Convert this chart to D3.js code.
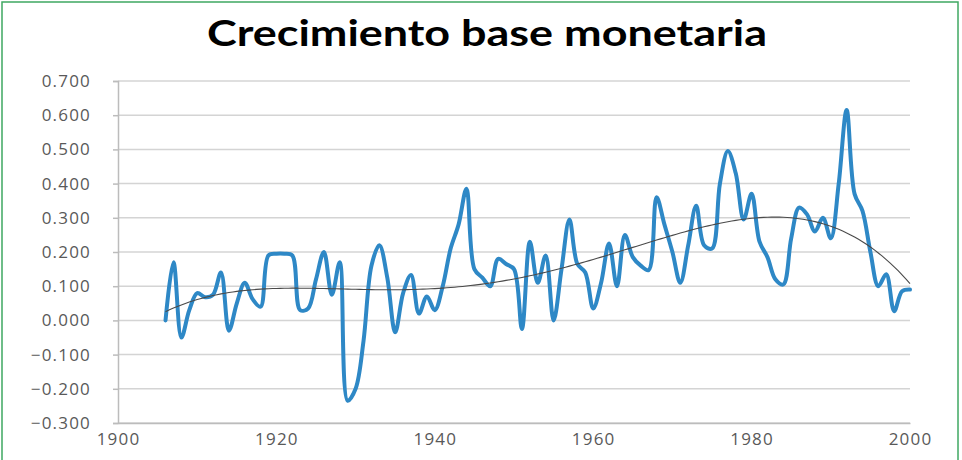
<!DOCTYPE html>
<html>
<head>
<meta charset="utf-8">
<script src="https://cdn.jsdelivr.net/npm/d3@7"></script>
<style>
  html, body { margin: 0; padding: 0; background: #fff; }
  svg { display: block; }
</style>
</head>
<body>
<svg id="chart" width="962" height="460"></svg>
<script>
// Annual growth of the monetary base, 1906–2000
const years = d3.range(1906, 2001);
const growth = [
  0.000, 0.170, -0.050, 0.030, 0.080, 0.068, 0.075, 0.140, -0.030, 0.050,
  0.110, 0.062, 0.040, 0.190, 0.195, 0.195, 0.190, 0.030, 0.035, 0.120,
  0.200, 0.075, 0.170, -0.235, -0.200, -0.060, 0.160, 0.220, 0.125, -0.035,
  0.080, 0.133, 0.020, 0.070, 0.030, 0.100, 0.210, 0.280, 0.385, 0.150,
  0.125, 0.100, 0.180, 0.165, 0.150, -0.025, 0.230, 0.110, 0.190, 0.000,
  0.150, 0.295, 0.165, 0.140, 0.035, 0.110, 0.225, 0.100, 0.250, 0.185,
  0.160, 0.147, 0.360, 0.280, 0.200, 0.110, 0.220, 0.335, 0.220, 0.210,
  0.400, 0.495, 0.430, 0.295, 0.370, 0.230, 0.185, 0.120, 0.105, 0.240,
  0.330, 0.310, 0.260, 0.300, 0.240, 0.400, 0.615, 0.370, 0.320, 0.200,
  0.100, 0.135, 0.027, 0.085, 0.090
];
const yTicks = [-0.3, -0.2, -0.1, 0, 0.1, 0.2, 0.3, 0.4, 0.5, 0.6, 0.7];
const xTicks = [1900, 1920, 1940, 1960, 1980, 2000];
const title = "Crecimiento base monetaria";
const trendDegree = 4;

const svg = d3.select("#chart");

// outer frame
svg.append("rect")
  .attr("x", 2).attr("y", 2).attr("width", 956).attr("height", 470)
  .attr("fill", "none").attr("stroke", "#3fa862").attr("stroke-width", 1.5);

const x = d3.scaleLinear().domain([1900, 2000]).range([118, 910]);
const y = d3.scaleLinear().domain([-0.3, 0.7]).range([423, 81]);

// horizontal gridlines
svg.append("g")
  .selectAll("line")
  .data(yTicks)
  .join("line")
  .attr("x1", x(1900)).attr("x2", x(2000))
  .attr("y1", d => y(d)).attr("y2", d => y(d))
  .attr("stroke", "#d4d4d4").attr("stroke-width", 1.5);

// y axis
const yAxis = svg.append("g")
  .attr("transform", `translate(${x(1900)},0)`)
  .call(d3.axisLeft(y).tickValues(yTicks).tickFormat(d3.format(".3f")).tickSize(5).tickPadding(22));
yAxis.select(".domain").attr("stroke", "#bcbcbc").attr("stroke-width", 1.5);
yAxis.selectAll(".tick line").attr("stroke", "#bcbcbc").attr("stroke-width", 1.5);
yAxis.selectAll(".tick text")
  .attr("fill", "#595959")
  .style("font-family", "'Open Sans', sans-serif")
  .style("font-size", "17px")
  .style("letter-spacing", "1.2px");

// x axis
const xAxis = svg.append("g")
  .attr("transform", `translate(0,${y(-0.3)})`)
  .call(d3.axisBottom(x).tickValues(xTicks).tickFormat(d3.format("d")).tickSize(0).tickPadding(10));
xAxis.select(".domain").attr("stroke", "#bcbcbc").attr("stroke-width", 1.5);
xAxis.selectAll(".tick text")
  .attr("fill", "#595959")
  .style("font-family", "'Open Sans', sans-serif")
  .style("font-size", "17px")
  .style("letter-spacing", "1.2px");

// series line
const points = years.map((yr, i) => [yr, growth[i]]);
const line = d3.line()
  .x(d => x(d[0]))
  .y(d => y(d[1]))
  .curve(d3.curveCatmullRom.alpha(0.5));

svg.append("path")
  .datum(points)
  .attr("d", line)
  .attr("fill", "none")
  .attr("stroke", "#2e88c6")
  .attr("stroke-width", 4)
  .attr("stroke-linejoin", "round")
  .attr("stroke-linecap", "round");

// polynomial least-squares trend line
function polyfit(xs, ys, deg) {
  const n = deg + 1;
  const A = Array.from({length: n}, () => new Array(n + 1).fill(0));
  xs.forEach((xv, k) => {
    for (let i = 0; i < n; i++) {
      for (let j = 0; j < n; j++) A[i][j] += Math.pow(xv, i + j);
      A[i][n] += ys[k] * Math.pow(xv, i);
    }
  });
  for (let c = 0; c < n; c++) {
    let p = c;
    for (let r = c + 1; r < n; r++) if (Math.abs(A[r][c]) > Math.abs(A[p][c])) p = r;
    [A[c], A[p]] = [A[p], A[c]];
    for (let r = 0; r < n; r++) {
      if (r === c) continue;
      const f = A[r][c] / A[c][c];
      for (let k = c; k <= n; k++) A[r][k] -= f * A[c][k];
    }
  }
  return A.map((row, i) => row[n] / row[i]);
}
const mid = 1953, half = 47;
const ts = years.map(yr => (yr - mid) / half);
const coef = polyfit(ts, growth, trendDegree);
const trendAt = yr => {
  const t = (yr - mid) / half;
  return coef.reduce((s, c, i) => s + c * Math.pow(t, i), 0);
};
const trendPts = d3.range(1906, 2000.01, 0.5).map(yr => [yr, trendAt(yr)]);

svg.append("path")
  .datum(trendPts)
  .attr("d", d3.line().x(d => x(d[0])).y(d => y(d[1])))
  .attr("fill", "none")
  .attr("stroke", "#4a4a4a")
  .attr("stroke-width", 1.1);

// title
svg.append("text")
  .attr("x", 487).attr("y", 46)
  .attr("text-anchor", "middle")
  .attr("textLength", 560)
  .attr("lengthAdjust", "spacingAndGlyphs")
  .style("font-family", "Lato, 'Open Sans', sans-serif")
  .style("font-weight", "700")
  .style("font-size", "36px")
  .attr("fill", "#000")
  .text(title);
</script>
</body>
</html>
